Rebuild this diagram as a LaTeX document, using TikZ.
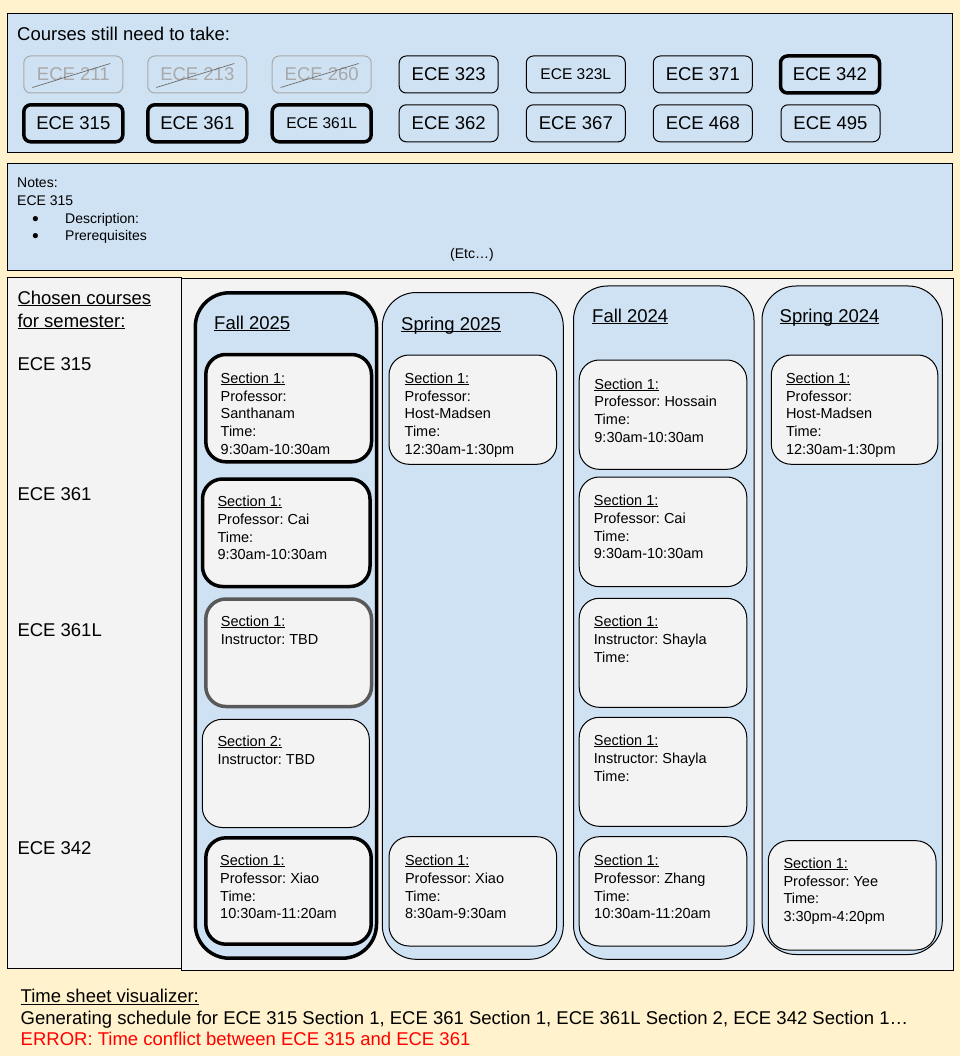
\documentclass[tikz,border=0pt]{standalone}
\usepackage{fontspec}
\setmainfont{Liberation Sans}
\frenchspacing
\definecolor{bgy}{HTML}{FFF2CC}
\definecolor{pblue}{HTML}{CFE2F3}
\definecolor{pgray}{HTML}{F3F3F3}
\definecolor{dgray}{HTML}{595959}
\definecolor{lgray}{HTML}{A8A8A8}
\definecolor{sgray}{HTML}{6A6A6A}
\definecolor{errred}{HTML}{FF0000}
\newsavebox\ulbox
\newcommand\ulx[1]{\sbox\ulbox{#1}\rlap{\rule[-0.11em]{\wd\ulbox}{0.065em}}\usebox\ulbox}
\newcommand\myL{\fontsize{18.5}{23}\selectfont}
\newcommand\myLs{\fontsize{15.5}{19}\selectfont}
\newcommand\myM{\fontsize{14.5}{17.7}\selectfont}
\newcommand\myS{\fontsize{14}{17.6}\selectfont}
\newcommand\lines[1]{\begin{tabular}[t]{@{}l@{}}#1\end{tabular}}
\tikzset{
  course/.style={draw, line width=1pt, rounded corners=7pt, minimum width=99pt, minimum height=37pt, inner sep=0pt, font=\myL},
  thickc/.style={course, line width=3.5pt},
  gone/.style={course, draw=lgray, text=lgray},
  strike/.style={draw=sgray, line width=0.7pt},
  panel/.style={draw, line width=1pt},
  secbox/.style={draw, fill=pgray, rounded corners=20pt, line width=1pt},
  secthick/.style={secbox, line width=3.5pt},
  semcol/.style={draw, fill=pblue, rounded corners=34pt, line width=1pt},
  txt/.style={anchor=base west, inner sep=0pt},
  sectxt/.style={txt, font=\frenchspacing\myM},
  bullet/.style={anchor=center, inner sep=0pt, font=\fontsize{12}{12}\selectfont},
}
\begin{document}
\begin{tikzpicture}[x=1pt, y=-1pt]
\useasboundingbox (0,0) rectangle (960,1056);
\fill[bgy] (0,0) rectangle (960,1056);

% top panel
\draw[panel, fill=pblue] (7.5,14) rectangle (952.5,152.5);
\node[txt, font=\myL] (title) at (17,41) {Courses still need to take:};
\node[gone] (c211) at (73.3,74.5) {ECE 211};
\node[gone] (c213) at (197.3,74.5) {ECE 213};
\node[gone] (c260) at (321.7,74.5) {ECE 260};
\draw[strike] ([xshift=-41pt,yshift=-13pt]c211.center) -- ([xshift=37pt,yshift=11pt]c211.center);
\draw[strike] ([xshift=-41pt,yshift=-13pt]c213.center) -- ([xshift=37pt,yshift=11pt]c213.center);
\draw[strike] ([xshift=-41pt,yshift=-13pt]c260.center) -- ([xshift=37pt,yshift=11pt]c260.center);
\node[course] (c323) at (448.7,74.5) {ECE 323};
\node[course, font=\myLs] (c323L) at (575.8,74.5) {ECE 323L};
\node[course] (c371) at (702.8,74.5) {ECE 371};
\node[thickc] (c342) at (830,74.5) {ECE 342};
\node[thickc] (c315) at (73.3,123.3) {ECE 315};
\node[thickc] (c361) at (197.3,123.3) {ECE 361};
\node[thickc, font=\myLs] (c361L) at (321.7,123.3) {ECE 361L};
\node[course] (c362) at (448.7,123.3) {ECE 362};
\node[course] (c367) at (575.8,123.3) {ECE 367};
\node[course] (c468) at (702.8,123.3) {ECE 468};
\node[course] (c495) at (830.5,123.3) {ECE 495};

% notes panel
\draw[panel, fill=pblue] (7.5,163.5) rectangle (952.5,270.7);
\node[txt, font=\myS] (nt1) at (17,187.3) {Notes:};
\node[txt, font=\myS] (nt2) at (17,205.5) {ECE 315};
\node[bullet] (bl1) at (35.5,219.5) {●};
\node[bullet] (bl2) at (35.5,236.5) {●};
\node[txt, font=\myS] (nb1) at (65,223.3) {Description:};
\node[txt, font=\myS] (nb2) at (65,240.5) {Prerequisites};
\node[anchor=base, inner sep=0pt, font=\myS] (etc) at (472,258.5) {(Etc…)};

% lower panels
\draw[panel, fill=pgray] (7.5,277.5) rectangle (181,968);
\draw[panel, fill=pgray] (181.5,279) rectangle (953,970);
\node[txt, font=\myL] (ch1) at (17.3,304.3) {\ulx{Chosen courses}};
\node[txt, font=\myL] (ch2) at (17.3,327.3) {\ulx{for semester:}};
\node[txt, font=\myL] (l315) at (17.3,370) {ECE 315};
\node[txt, font=\myL] (l361) at (17.3,500.5) {ECE 361};
\node[txt, font=\myL] (l361L) at (17.3,636.5) {ECE 361L};
\node[txt, font=\myL] (l342) at (17.3,854.5) {ECE 342};

% semester columns
\draw[semcol, line width=3.5pt] (195.3,292.8) rectangle (376.5,958.2);
\draw[semcol] (382.3,292.5) rectangle (563.3,959.3);
\draw[semcol] (573.5,286) rectangle (754,959.3);
\draw[semcol] (762,286) rectangle (942.3,954.5);
\node[txt, font=\myL] (hF25) at (214,329) {\ulx{Fall 2025}};
\node[txt, font=\myL] (hS25) at (401,330) {\ulx{Spring 2025}};
\node[txt, font=\myL] (hF24) at (592,322.3) {\ulx{Fall 2024}};
\node[txt, font=\myL] (hS24) at (779.5,322.3) {\ulx{Spring 2024}};

% Fall 2025 sections
\draw[secthick] (205.8,354.5) rectangle (371.5,461.8);
\node[sectxt] (f25a) at (220.5,383.3) {\lines{\ulx{Section 1:}\\Professor:\\Santhanam\\Time:\\9:30am-10:30am}};
\draw[secthick] (202.5,479) rectangle (370,586.5);
\node[sectxt] (f25b) at (217.3,506.7) {\lines{\ulx{Section 1:}\\Professor: Cai\\Time:\\9:30am-10:30am}};
\draw[secthick, draw=dgray] (205.8,599) rectangle (371.5,706.5);
\node[sectxt] (f25c) at (220.7,626.7) {\lines{\ulx{Section 1:}\\Instructor: TBD}};
\draw[secbox] (202.3,719.3) rectangle (369.3,827.5);
\node[sectxt] (f25d) at (217.3,746.7) {\lines{\ulx{Section 2:}\\Instructor: TBD}};
\draw[secthick] (205.8,837.8) rectangle (371.2,944.2);
\node[sectxt] (f25e) at (220,865.7) {\lines{\ulx{Section 1:}\\Professor: Xiao\\Time:\\10:30am-11:20am}};

% Spring 2025 sections
\draw[secbox] (389,355) rectangle (556.7,464.3);
\node[sectxt] (s25a) at (404.5,383.3) {\lines{\ulx{Section 1:}\\Professor:\\Host-Madsen\\Time:\\12:30am-1:30pm}};
\draw[secbox] (389,836.7) rectangle (556.7,946);
\node[sectxt] (s25e) at (404.8,865.7) {\lines{\ulx{Section 1:}\\Professor: Xiao\\Time:\\8:30am-9:30am}};

% Fall 2024 sections
\draw[secbox] (579.2,360) rectangle (746.8,469.3);
\node[sectxt] (f24a) at (594.2,389) {\lines{\ulx{Section 1:}\\Professor: Hossain\\Time:\\9:30am-10:30am}};
\draw[secbox] (579.2,477) rectangle (746.8,586.7);
\node[sectxt] (f24b) at (593.7,505.7) {\lines{\ulx{Section 1:}\\Professor: Cai\\Time:\\9:30am-10:30am}};
\draw[secbox] (579.2,598.3) rectangle (746.8,707.3);
\node[sectxt] (f24c) at (593.7,626.7) {\lines{\ulx{Section 1:}\\Instructor: Shayla\\Time:}};
\draw[secbox] (579.2,717.3) rectangle (746.8,826.3);
\node[sectxt] (f24d) at (593.7,745.7) {\lines{\ulx{Section 1:}\\Instructor: Shayla\\Time:}};
\draw[secbox] (579.2,836.7) rectangle (746.8,946);
\node[sectxt] (f24e) at (594,865.7) {\lines{\ulx{Section 1:}\\Professor: Zhang\\Time:\\10:30am-11:20am}};

% Spring 2024 sections
\draw[secbox] (771.3,355) rectangle (937.8,464.3);
\node[sectxt] (s24a) at (785.8,383.3) {\lines{\ulx{Section 1:}\\Professor:\\Host-Madsen\\Time:\\12:30am-1:30pm}};
\draw[secbox] (768.3,840.7) rectangle (936,950);
\node[sectxt] (s24e) at (783.3,868.5) {\lines{\ulx{Section 1:}\\Professor: Yee\\Time:\\3:30pm-4:20pm}};

% bottom text
\node[txt, font=\myL] (ts) at (20.5,1002.7) {\ulx{Time sheet visualizer:}};
\node[txt, font=\myL] (gen) at (20.5,1024.3) {Generating schedule for ECE 315 Section 1, ECE 361 Section 1, ECE 361L Section 2, ECE 342 Section 1…};
\node[txt, font=\myL, text=errred] (err) at (20.5,1045.5) {ERROR: Time conflict between ECE 315 and ECE 361};
\end{tikzpicture}
\end{document}
